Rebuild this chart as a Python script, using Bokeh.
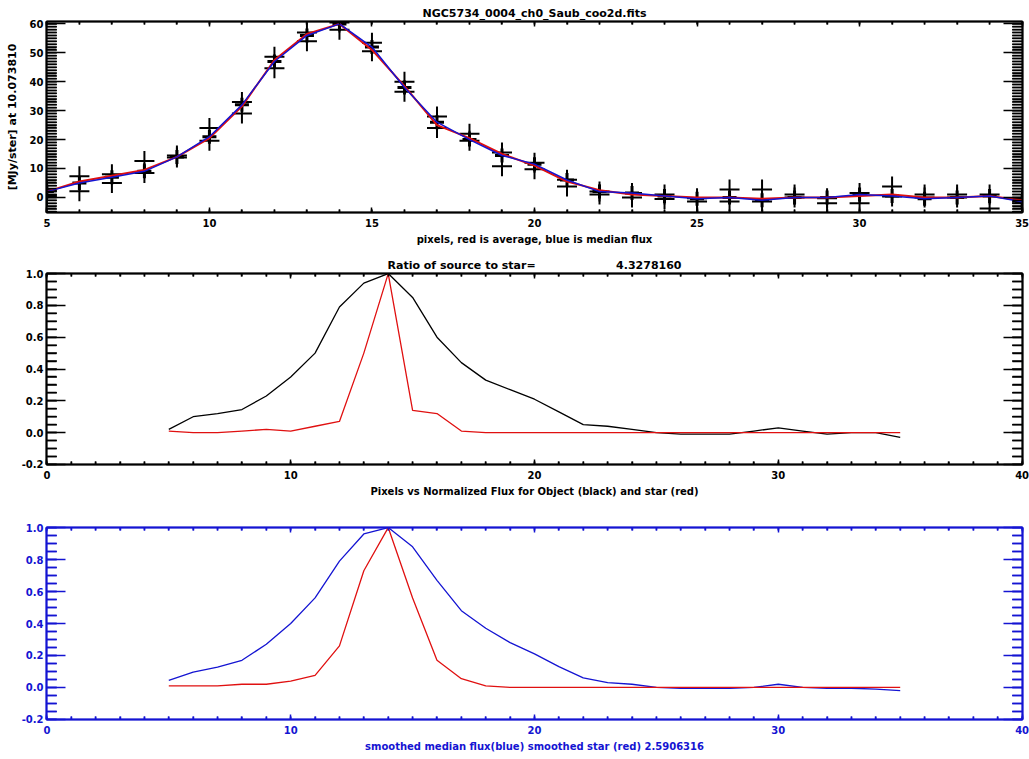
import numpy as np
from bokeh.plotting import figure
from bokeh.models import (Range1d, LinearAxis, SingleIntervalTicker, PrintfTickFormatter,
                          CustomLabelingPolicy)
from bokeh.layouts import column
from bokeh.embed import file_html
from bokeh.resources import INLINE

# ---------------- data ----------------
pix = list(range(5, 36))
median_flux = [2, 5, 7, 9, 14, 21, 32, 47, 56, 60, 52, 38, 26, 20, 14.5, 11.5,
               6, 2, 1.5, 0.5, -0.5, 0, -1, 0, 0, 1, 0.5, -0.5, 0, 0.5, -1.5]
average_flux = [2, 5.5, 7.5, 9.5, 14, 20.5, 31.5, 47.5, 56.5, 60, 51, 38.5, 25, 20.5, 15, 11,
                5.5, 2.5, 1, 0.5, 0, 0, -0.5, 0, 0, 0.5, 1, 0, 0, 0.5, -1]
sample_hi = [2.5, 7.3, 8, 12.6, 14.5, 24, 33, 48.6, 57, 60.5, 53.5, 40, 28, 22, 15.5, 12,
             6.1, 2, 1.5, 1, -0.3, 2.7, 2.7, 1, -0.3, 1.5, 3.8, 1, 1, 1, -0.5]
sample_lo = [0.5, 2.1, 5, 8.4, 13.8, 19.6, 29, 44.7, 54, 58, 50.5, 36.5, 24, 19.6, 10.8, 9.7,
             3.8, 1, 0, -0.6, -1.4, -1.4, -1.4, 0, -2, -2, 0.3, 0, 0, -3.8, -1.5]

object_norm = [0.02, 0.10, 0.12, 0.145, 0.23, 0.35, 0.50, 0.79, 0.94, 1.00, 0.85, 0.60, 0.44,
               0.33, 0.27, 0.21, 0.13, 0.05, 0.04, 0.02, 0.00, -0.01, -0.01, -0.01, 0.01,
               0.03, 0.01, -0.01, 0.00, 0.00, -0.03]
star_norm = [0.01, 0.0, 0.0, 0.01, 0.02, 0.01, 0.04, 0.07, 0.50, 1.00, 0.14, 0.12, 0.01,
             0.0, 0.0, 0.0, 0.0, 0.0, 0.0, 0.0, 0.0, 0.0, 0.0, 0.0, 0.0,
             0.0, 0.0, 0.0, 0.0, 0.0, 0.0]

smooth_object = [0.044, 0.096, 0.127, 0.17, 0.27, 0.40, 0.56, 0.79, 0.96, 1.00, 0.88, 0.67,
                 0.48, 0.37, 0.28, 0.21, 0.13, 0.06, 0.03, 0.02, 0.0, -0.005, -0.005, -0.005,
                 0.0, 0.02, 0.0, -0.005, -0.005, -0.01, -0.02]
smooth_star = [0.01, 0.01, 0.01, 0.02, 0.02, 0.04, 0.075, 0.26, 0.73, 1.00, 0.56, 0.17, 0.055,
               0.01, 0.0, 0.0, 0.0, 0.0, 0.0, 0.0, 0.0, 0.0, 0.0, 0.0,
               0.0, 0.0, 0.0, 0.0, 0.0, 0.0, 0.0]

title_top = "NGC5734_0004_ch0_Saub_coo2d.fits"
ylabel_top = "[MJy/ster] at 10.073810"
xlabel_top = "pixels, red is average, blue is median flux"
title_mid = "Ratio of source to star=" + "\u00a0" * 21 + "4.3278160"
xlabel_mid = "Pixels vs Normalized Flux for Object (black) and star (red)"
xlabel_bot = "smoothed median flux(blue) smoothed star (red) 2.5906316"

FONT = "DejaVu Sans"
RED = "#e01010"
BLUE = "#1414d2"
WIDTH = 1029
BORDER_L, BORDER_R = 46, 7

HIDE_ALL = "for (let i = 0; i < indices.size; i++) { indices.unset(i) }\nreturn indices"


def style_axis(ax, color, interval, n_minor, tick_in, minor_in, labelled, fmt=None):
    ax.ticker = SingleIntervalTicker(interval=interval, num_minor_ticks=n_minor)
    ax.major_tick_in = tick_in
    ax.major_tick_out = 0
    ax.minor_tick_in = minor_in
    ax.minor_tick_out = 0
    ax.axis_line_color = color
    ax.axis_line_width = 2
    ax.major_tick_line_color = color
    ax.major_tick_line_width = 1.5
    ax.minor_tick_line_color = color
    ax.minor_tick_line_width = 1.5
    ax.major_label_text_color = color
    ax.major_label_text_font = FONT
    ax.major_label_text_font_style = "bold"
    ax.axis_label_text_color = color
    ax.axis_label_text_font = FONT
    ax.axis_label_text_font_size = "10px"
    ax.axis_label_text_font_style = "bold"
    if fmt:
        ax.formatter = PrintfTickFormatter(format=fmt)
    if labelled:
        ax.major_label_text_font_size = "10px"
    else:
        ax.major_label_text_font_size = "0px"
        ax.major_label_standoff = 0
        ax.major_label_policy = CustomLabelingPolicy(code=HIDE_ALL)


def make_fig(height, xr, yr, color, xint, xstep, yint, ystep, btop, bbot,
             title, xlabel, ylabel=None, yfmt=None):
    ex = (xr[1] - xr[0]) * 0.0004
    ey = (yr[1] - yr[0]) * 0.0004
    p = figure(width=WIDTH, height=height,
               x_range=Range1d(xr[0] - ex, xr[1] + ex), y_range=Range1d(yr[0] - ey, yr[1] + ey),
               output_backend="svg", toolbar_location=None,
               min_border_left=BORDER_L, min_border_right=BORDER_R,
               min_border_top=btop, min_border_bottom=bbot)
    p.grid.visible = False
    p.outline_line_color = color
    p.outline_line_width = 1.5
    p.background_fill_color = "white"
    p.border_fill_color = "white"

    if title:
        p.title.text = title
    p.title.align = "center"
    p.title.text_font = FONT
    p.title.text_font_size = "11px"
    p.title.text_font_style = "bold"
    p.title.text_color = color
    p.title.standoff = 3

    nx = int(round(xint / xstep))
    ny = int(round(yint / ystep))

    bottom = p.below[0]
    style_axis(bottom, color, xint, nx, 5, 3, True)
    bottom.major_label_standoff = 6
    bottom.axis_label = xlabel
    bottom.axis_label_standoff = 4

    left = p.left[0]
    style_axis(left, color, yint, ny, 19, 10, True, yfmt)
    left.major_label_standoff = 3
    if ylabel:
        left.axis_label = ylabel
        left.axis_label_text_font_size = "11px"
        left.axis_label_standoff = 8

    right = LinearAxis()
    style_axis(right, color, yint, ny, 19, 10, False)
    p.add_layout(right, "right")

    top = LinearAxis()
    style_axis(top, color, xint, nx, 5, 3, False)
    p.add_layout(top, "above")

    # minor ticks drawn inward from the frame edges as short segments
    frame_w = WIDTH - BORDER_L - BORDER_R
    frame_h = height - btop - bbot
    dx = 10 * (xr[1] - xr[0] + 2 * ex) / frame_w
    dy = 3 * (yr[1] - yr[0] + 2 * ey) / frame_h
    xs = np.arange(np.ceil(xr[0] / xstep) * xstep, xr[1] + 1e-9, xstep)
    ys = np.arange(np.ceil(yr[0] / ystep) * ystep, yr[1] + 1e-9, ystep)
    for xe, d in [(xr[0], dx), (xr[1], -dx)]:
        p.segment(x0=np.full(len(ys), float(xe)), y0=ys,
                  x1=np.full(len(ys), float(xe) + d), y1=ys,
                  line_width=1.5, line_color=color)
    for ye, d in [(yr[0], dy), (yr[1], -dy)]:
        p.segment(x0=xs, y0=np.full(len(xs), float(ye)),
                  x1=xs, y1=np.full(len(xs), float(ye) + d),
                  line_width=1.5, line_color=color)
    return p


# ---------------- top panel ----------------
p1 = make_fig(252, (5, 35), (-5.2, 60.8), "black", 5, 1, 10, 1, 21, 40,
              title_top, xlabel_top, ylabel_top)
p1.scatter(pix, sample_hi, marker="cross", size=20, line_width=2, line_color="black")
p1.scatter(pix, sample_lo, marker="cross", size=20, line_width=2, line_color="black")
p1.scatter(pix, median_flux, marker="cross", size=14, line_width=3, line_color="black")
p1.line(pix, average_flux, line_color=RED, line_width=2)
p1.line(pix, median_flux, line_color=BLUE, line_width=1.5)

# ---------------- middle panel ----------------
p2 = make_fig(248, (0, 40), (-0.2, 1.0), "black", 10, 1, 0.2, 0.05, 21, 36,
              title_mid, xlabel_mid, yfmt="%.1f")
p2.line(pix, object_norm, line_color="black", line_width=1.3)
p2.line(pix, star_norm, line_color=RED, line_width=1.3)

# ---------------- bottom panel ----------------
p3 = make_fig(259, (0, 40), (-0.2, 1.0), BLUE, 10, 1, 0.2, 0.05, 27, 40,
              "", xlabel_bot, yfmt="%.1f")
p3.line(pix, smooth_object, line_color=BLUE, line_width=1.3)
p3.line(pix, smooth_star, line_color=RED, line_width=1.3)

layout = column(p1, p2, p3, spacing=0)
open("out.html", "w").write(file_html(layout, INLINE))
